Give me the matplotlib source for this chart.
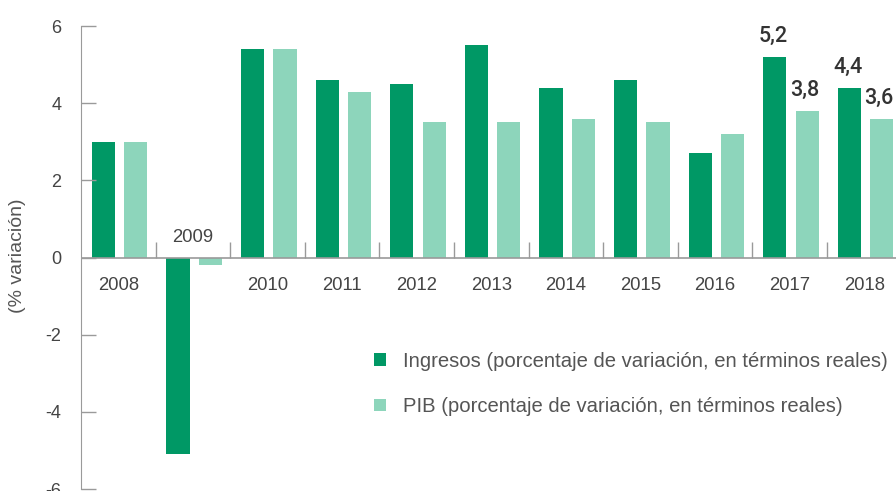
import numpy as np
import matplotlib.pyplot as plt

plt.rcParams['font.family'] = ['Liberation Sans', 'DejaVu Sans']
plt.rcParams['axes.unicode_minus'] = False

years = ['2008', '2009', '2010', '2011', '2012', '2013', '2014', '2015', '2016', '2017', '2018']
ingresos = [3.0, -5.1, 5.4, 4.6, 4.5, 5.5, 4.4, 4.6, 2.7, 5.2, 4.4]
pib = [3.0, -0.2, 5.4, 4.3, 3.5, 3.5, 3.6, 3.5, 3.2, 3.8, 3.6]
etiquetados = ['2017', '2018']

c_ing = '#009865'
c_pib = '#8dd5bb'
gris = '#9a9a9a'
txt = '#444444'

fig = plt.figure(figsize=(8.96, 4.91), dpi=100)
ax = fig.add_axes([0.0904, 0.004, 0.9096, 0.943])

x = np.arange(len(years))
w = 0.31
ax.bar(x - 0.2, ingresos, w, color=c_ing, label='Ingresos (porcentaje de variación, en términos reales)')
ax.bar(x + 0.235, pib, w, color=c_pib, label='PIB (porcentaje de variación, en términos reales)')

ax.set_xlim(-0.5, 10.425)
ax.set_ylim(-6, 6)
ax.set_yticks([-6, -4, -2, 0, 2, 4, 6])
ax.set_xticks([])
ax.tick_params(axis='y', direction='in', length=11, width=1, color=gris,
               labelsize=13, labelcolor=txt, pad=14)
for s in ['top', 'right', 'bottom']:
    ax.spines[s].set_visible(False)
ax.spines['left'].set_color(gris)
ax.axhline(0, color=gris, lw=1.2, zorder=3)

# separadores entre años
ax.vlines(x[:-1] + 0.5, 0, 0.39, color=gris, lw=1, zorder=3)

# etiquetas de año
for i, y in enumerate(years):
    if ingresos[i] < 0:
        ax.text(i, 0.53, y, ha='center', va='center', fontsize=13.3, color=txt)
    else:
        ax.text(i, -0.72, y, ha='center', va='center', fontsize=13.3, color=txt)

# valores destacados
for i, y in enumerate(years):
    if y in etiquetados:
        ax.text(i - 0.22, ingresos[i] + 0.25, f'{ingresos[i]:.1f}'.replace('.', ','),
                ha='center', va='bottom', fontsize=15.5, color='#333333',
                family=['Roboto', 'Liberation Sans'], weight='medium')
        ax.text(i + 0.2, pib[i] + 0.25, f'{pib[i]:.1f}'.replace('.', ','),
                ha='center', va='bottom', fontsize=15.5, color='#333333',
                family=['Roboto', 'Liberation Sans'], weight='medium')

fig.text(0.02, 0.48, '(% variación)', rotation=90, ha='center', va='center',
         fontsize=14, color='#555555')

ax.legend(loc='upper left', bbox_to_anchor=(0.408, 0.30), bbox_transform=fig.transFigure,
          frameon=False, handlelength=0.6, handleheight=0.6, handletextpad=0.85,
          labelspacing=1.3, fontsize=14.6, labelcolor='#555555', borderaxespad=0)

plt.savefig('out.png', dpi=100)
